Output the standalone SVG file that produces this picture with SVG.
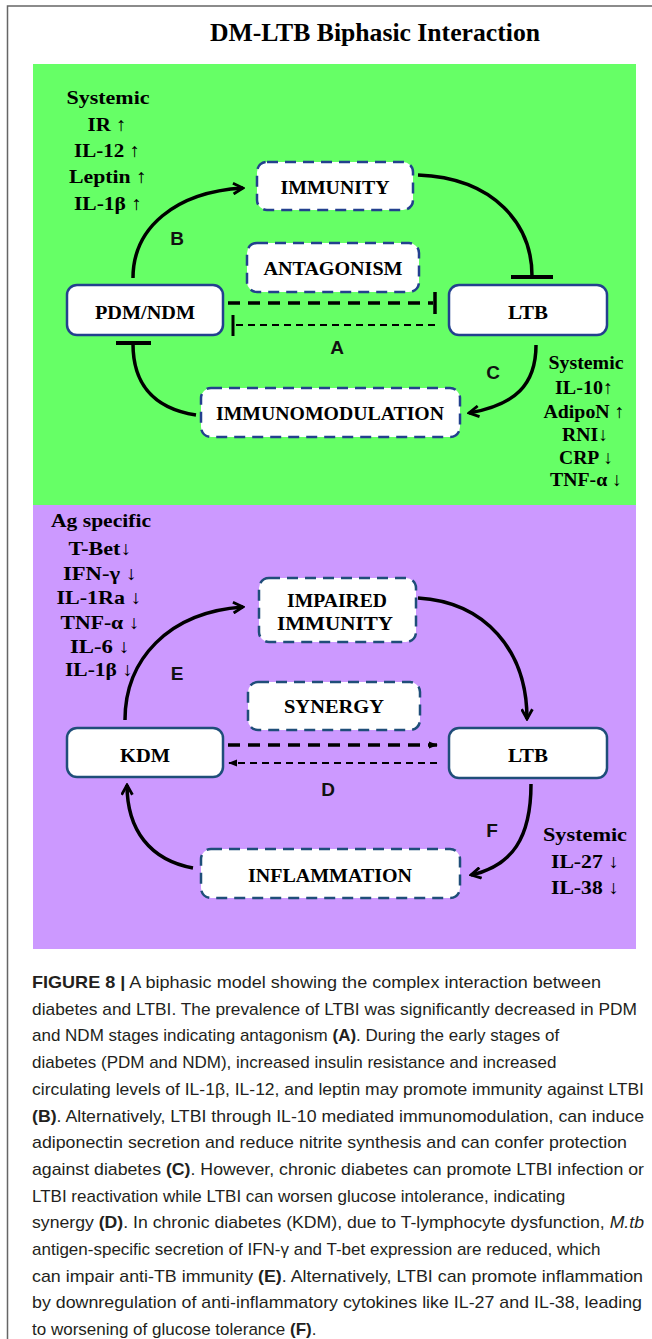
<svg xmlns="http://www.w3.org/2000/svg" width="652" height="1339" viewBox="0 0 652 1339">
<defs>
<style>
.frame{stroke:#666;stroke-width:1.5;fill:none}
.nodeS{fill:#fff;stroke:#23408e;stroke-width:2.5}
.nodeD{fill:#fff;stroke:#23408e;stroke-width:2.5;stroke-dasharray:11 7}
.nodeS2{fill:#fff;stroke:#1f4e79;stroke-width:2.5}
.nodeD2{fill:#fff;stroke:#1f4e79;stroke-width:2.5;stroke-dasharray:11 7}
.lbl{font-family:"Liberation Serif","Times New Roman",serif;font-weight:bold;font-size:18px;fill:#000;text-anchor:middle}
.side{font-family:"Liberation Serif","Times New Roman",serif;font-weight:bold;font-size:19px;fill:#000;text-anchor:middle}
.let{font-family:"Liberation Sans",Arial,sans-serif;font-weight:bold;font-size:19px;fill:#111;text-anchor:middle}
.curve{fill:none;stroke:#000;stroke-width:3.5}
.bar{stroke:#000;stroke-width:4}
.dashT{fill:none;stroke:#000;stroke-width:3.5;stroke-dasharray:12 8}
.dashN{fill:none;stroke:#000;stroke-width:2;stroke-dasharray:7 5}
.cap{font-family:"Liberation Sans",Arial,sans-serif;font-size:17px;fill:#231f20}
.b{font-weight:bold}
</style>
<marker id="arr" viewBox="0 0 12 12" markerWidth="13" markerHeight="13" markerUnits="userSpaceOnUse" refX="10" refY="6" orient="auto">
<path d="M1,1 L10,6 L1,11" fill="none" stroke="#000" stroke-width="2.6"/>
</marker>
<marker id="tri" viewBox="0 0 10 10" markerWidth="9" markerHeight="9" markerUnits="userSpaceOnUse" refX="9" refY="5" orient="auto">
<path d="M0,1 L10,5 L0,9 z" fill="#000"/>
</marker>
</defs>
<rect x="0" y="0" width="652" height="1339" fill="#fff"/>
<path class="frame" d="M652,6 H7.5 V1339"/>
<text x="375" y="41" font-family="'Liberation Serif','Times New Roman',serif" font-weight="bold" font-size="25" text-anchor="middle" textLength="330" lengthAdjust="spacingAndGlyphs">DM-LTB  Biphasic Interaction</text>
<rect x="33" y="64" width="603" height="441" fill="#66ff66"/>
<rect x="33" y="505" width="603" height="444" fill="#cc99ff"/>

<g id="connectors">
<path class="curve" d="M133,278 C133,228 175,192 243,188" marker-end="url(#arr)"/>
<path class="curve" d="M418,175 C495,178 532,225 532,276"/>
<line class="bar" x1="511" y1="277" x2="553" y2="277"/>
<path class="curve" d="M536,345 C536,385 515,405 469,413" marker-end="url(#arr)"/>
<path class="curve" d="M196,415 C150,408 133,380 133,344"/>
<line class="bar" x1="116" y1="343" x2="151" y2="343"/>
<path class="dashT" d="M228,303 H433"/>
<line x1="435" y1="292" x2="435" y2="314" stroke="#000" stroke-width="3.5"/>
<path class="dashN" d="M236,325 H435"/>
<line x1="233" y1="315" x2="233" y2="336" stroke="#000" stroke-width="3"/>
<path class="curve" d="M125,720 C125,660 168,612 243,607" marker-end="url(#arr)"/>
<path class="curve" d="M418,598 C485,602 527,650 527,719" marker-end="url(#arr)"/>
<path class="curve" d="M531,784 C531,838 512,866 471,875" marker-end="url(#arr)"/>
<path class="curve" d="M193,868 C150,860 127,830 127,785" marker-end="url(#arr)"/>
<path class="dashT" d="M228,745 H437" marker-end="url(#tri)"/>
<path class="dashN" d="M437,763 H229" marker-end="url(#tri)"/>
</g>

<g id="labels-letters">
<text class="let" x="177" y="245">B</text>
<text class="let" x="337" y="354">A</text>
<text class="let" x="493" y="379">C</text>
<text class="let" x="177" y="680">E</text>
<text class="let" x="328" y="796">D</text>
<text class="let" x="492" y="837">F</text>
</g>

<g id="node-immunity">
<rect class="nodeD" x="257" y="162" width="156" height="48" rx="10"/>
<text class="lbl" x="335" y="194" textLength="109" lengthAdjust="spacingAndGlyphs">IMMUNITY</text>
</g>
<g id="node-antagonism">
<rect class="nodeD" x="247" y="243" width="172" height="49" rx="10"/>
<text class="lbl" x="333" y="275" textLength="139" lengthAdjust="spacingAndGlyphs">ANTAGONISM</text>
</g>
<g id="node-pdmndm">
<rect class="nodeS" x="67" y="285" width="156" height="50" rx="10"/>
<text class="lbl" x="145" y="319" textLength="100" lengthAdjust="spacingAndGlyphs">PDM/NDM</text>
</g>
<g id="node-ltb-top">
<rect class="nodeS" x="449" y="285" width="158" height="50" rx="10"/>
<text class="lbl" x="528" y="319" textLength="40" lengthAdjust="spacingAndGlyphs">LTB</text>
</g>
<g id="node-immunomodulation">
<rect class="nodeD" x="201" y="388" width="259" height="49" rx="10"/>
<text class="lbl" x="330" y="420" textLength="228" lengthAdjust="spacingAndGlyphs">IMMUNOMODULATION</text>
</g>

<g id="node-impaired">
<rect class="nodeD2" x="259" y="578" width="157" height="64" rx="10"/>
<text class="lbl" x="337" y="607" textLength="100" lengthAdjust="spacingAndGlyphs">IMPAIRED</text>
<text class="lbl" x="335" y="630" textLength="116" lengthAdjust="spacingAndGlyphs">IMMUNITY</text>
</g>
<g id="node-synergy">
<rect class="nodeD2" x="248" y="682" width="172" height="48" rx="10"/>
<text class="lbl" x="334" y="713" textLength="100" lengthAdjust="spacingAndGlyphs">SYNERGY</text>
</g>
<g id="node-kdm">
<rect class="nodeS2" x="67" y="728" width="156" height="49" rx="10"/>
<text class="lbl" x="145" y="762" textLength="50" lengthAdjust="spacingAndGlyphs">KDM</text>
</g>
<g id="node-ltb-bottom">
<rect class="nodeS2" x="449" y="728" width="158" height="50" rx="10"/>
<text class="lbl" x="528" y="762" textLength="40" lengthAdjust="spacingAndGlyphs">LTB</text>
</g>
<g id="node-inflammation">
<rect class="nodeD2" x="201" y="849" width="259" height="49" rx="10"/>
<text class="lbl" x="330" y="882" textLength="164" lengthAdjust="spacingAndGlyphs">INFLAMMATION</text>
</g>

<g id="side-top-left">
<text class="side" x="108" y="104" textLength="83" lengthAdjust="spacingAndGlyphs">Systemic</text>
<text class="side" x="107" y="131" textLength="39" lengthAdjust="spacingAndGlyphs">IR ↑</text>
<text class="side" x="107" y="157" textLength="66" lengthAdjust="spacingAndGlyphs">IL-12 ↑</text>
<text class="side" x="108" y="183" textLength="78" lengthAdjust="spacingAndGlyphs">Leptin ↑</text>
<text class="side" x="108" y="210" textLength="68" lengthAdjust="spacingAndGlyphs">IL-1β ↑</text>
</g>
<g id="side-top-right">
<text class="side" x="586" y="369" font-size="17" textLength="75" lengthAdjust="spacingAndGlyphs">Systemic</text>
<text class="side" x="584" y="394" font-size="17" textLength="58" lengthAdjust="spacingAndGlyphs">IL-10↑</text>
<text class="side" x="584" y="418" font-size="17" textLength="81" lengthAdjust="spacingAndGlyphs">AdipoN ↑</text>
<text class="side" x="585" y="441" font-size="17" textLength="46" lengthAdjust="spacingAndGlyphs">RNI↓</text>
<text class="side" x="586" y="464" font-size="17" textLength="54" lengthAdjust="spacingAndGlyphs">CRP ↓</text>
<text class="side" x="586" y="486" font-size="17" textLength="72" lengthAdjust="spacingAndGlyphs">TNF-α ↓</text>
</g>
<g id="side-bottom-left">
<text class="side" x="101" y="527" font-size="18" textLength="100" lengthAdjust="spacingAndGlyphs">Ag specific</text>
<text class="side" x="100" y="555" font-size="18" textLength="63" lengthAdjust="spacingAndGlyphs">T-Bet↓</text>
<text class="side" x="100" y="580" font-size="18" textLength="74" lengthAdjust="spacingAndGlyphs">IFN-γ ↓</text>
<text class="side" x="99" y="604" font-size="18" textLength="85" lengthAdjust="spacingAndGlyphs">IL-1Ra ↓</text>
<text class="side" x="100" y="629" font-size="18" textLength="79" lengthAdjust="spacingAndGlyphs">TNF-α ↓</text>
<text class="side" x="100" y="653" font-size="18" textLength="60" lengthAdjust="spacingAndGlyphs">IL-6 ↓</text>
<text class="side" x="99" y="676" font-size="18" textLength="68" lengthAdjust="spacingAndGlyphs">IL-1β ↓</text>
</g>
<g id="side-bottom-right">
<text class="side" x="585" y="841" textLength="84" lengthAdjust="spacingAndGlyphs">Systemic</text>
<text class="side" x="585" y="868" textLength="68" lengthAdjust="spacingAndGlyphs">IL-27 ↓</text>
<text class="side" x="585" y="894" textLength="68" lengthAdjust="spacingAndGlyphs">IL-38 ↓</text>
</g>

<g id="caption">
<text class="cap" x="32" y="988" textLength="569" lengthAdjust="spacingAndGlyphs"><tspan class="b">FIGURE 8 |</tspan> A biphasic model showing the complex interaction between</text>
<text class="cap" x="32" y="1014.7" textLength="605" lengthAdjust="spacingAndGlyphs">diabetes and LTBI. The prevalence of LTBI was significantly decreased in PDM</text>
<text class="cap" x="32" y="1041.4">and NDM stages indicating antagonism <tspan class="b">(A)</tspan>. During the early stages of</text>
<text class="cap" x="32" y="1068.1">diabetes (PDM and NDM), increased insulin resistance and increased</text>
<text class="cap" x="32" y="1094.8" textLength="612" lengthAdjust="spacingAndGlyphs">circulating levels of IL-1β, IL-12, and leptin may promote immunity against LTBI</text>
<text class="cap" x="32" y="1121.5" textLength="612" lengthAdjust="spacingAndGlyphs"><tspan class="b">(B)</tspan>. Alternatively, LTBI through IL-10 mediated immunomodulation, can induce</text>
<text class="cap" x="32" y="1148.2" textLength="595" lengthAdjust="spacingAndGlyphs">adiponectin secretion and reduce nitrite synthesis and can confer protection</text>
<text class="cap" x="32" y="1174.9" textLength="612" lengthAdjust="spacingAndGlyphs">against diabetes <tspan class="b">(C)</tspan>. However, chronic diabetes can promote LTBI infection or</text>
<text class="cap" x="32" y="1201.6">LTBI reactivation while LTBI can worsen glucose intolerance, indicating</text>
<text class="cap" x="32" y="1228.3" textLength="612" lengthAdjust="spacingAndGlyphs">synergy <tspan class="b">(D)</tspan>. In chronic diabetes (KDM), due to T-lymphocyte dysfunction, <tspan font-style="italic">M.tb</tspan></text>
<text class="cap" x="32" y="1255">antigen-specific secretion of IFN-γ and T-bet expression are reduced, which</text>
<text class="cap" x="32" y="1281.7" textLength="611" lengthAdjust="spacingAndGlyphs">can impair anti-TB immunity <tspan class="b">(E)</tspan>. Alternatively, LTBI can promote inflammation</text>
<text class="cap" x="32" y="1308.4" textLength="610" lengthAdjust="spacingAndGlyphs">by downregulation of anti-inflammatory cytokines like IL-27 and IL-38, leading</text>
<text class="cap" x="32" y="1335">to worsening of glucose tolerance <tspan class="b">(F)</tspan>.</text>
</g>
</svg>
